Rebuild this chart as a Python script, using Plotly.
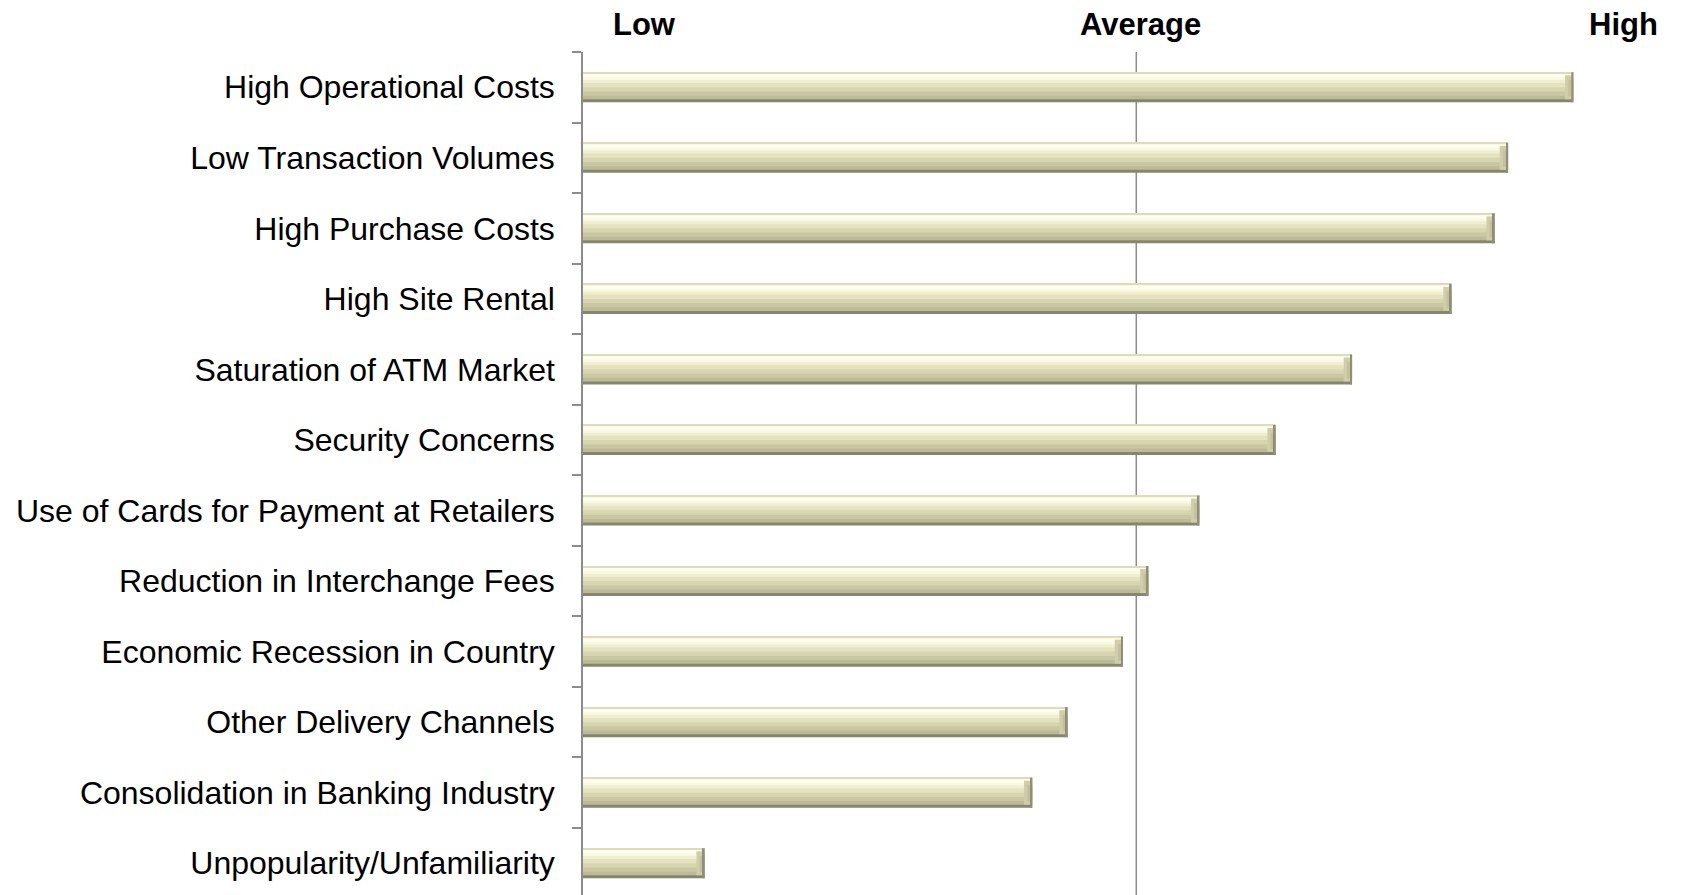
import plotly.graph_objects as go

# Barriers to ATM deployment, rated on a Low -> Average -> High scale (0-100)
categories = [
    "High Operational Costs",
    "Low Transaction Volumes",
    "High Purchase Costs",
    "High Site Rental",
    "Saturation of ATM Market",
    "Security Concerns",
    "Use of Cards for Payment at Retailers",
    "Reduction in Interchange Fees",
    "Economic Recession in Country",
    "Other Delivery Channels",
    "Consolidation in Banking Industry",
    "Unpopularity/Unfamiliarity",
]
scores = [89.5, 83.6, 82.4, 78.5, 69.5, 62.6, 55.7, 51.1, 48.8, 43.8, 40.6, 11.0]

scale_labels = ["Low", "Average", "High"]
scale_label_pos = [5.6, 50.4, 94.0]
average_value = 50

W, H = 1684, 895
BAR_W = 0.4255  # bar thickness in category units

# horizontal shading bands of each bar, top to bottom: (start, end, colour)
bands = [
    (0.00, 1.00, "#86866f"),
    (0.00, 0.90, "#bdbb97"),
    (0.00, 0.78, "#cac8a3"),
    (0.00, 0.64, "#d8d6b1"),
    (0.00, 0.50, "#e4e2bf"),
    (0.00, 0.36, "#efeecf"),
    (0.03, 0.26, "#f9f9e2"),
    (0.07, 0.17, "#fefef0"),
    (0.00, 0.035, "#dedcb8"),
]

fig = go.Figure()

for a, b, col in bands:
    fig.add_trace(go.Bar(
        y=categories, x=scores, orientation="h",
        offset=-BAR_W / 2 + a * BAR_W, width=(b - a) * BAR_W,
        marker=dict(color=col, line=dict(width=0)),
        hoverinfo="skip", showlegend=False,
    ))

# bevelled right-hand end of each bar
cap = 0.75
cap_bands = [
    (0.10, 0.90, "#cfcdaa", cap),
    (0.25, 0.80, "#c2c09d", cap * 0.6),
    (0.00, 1.00, "#8f8f78", 0.18),
]
for a, b, col, d in cap_bands:
    fig.add_trace(go.Bar(
        y=categories, x=[d] * len(scores), base=[v - d for v in scores],
        orientation="h",
        offset=-BAR_W / 2 + a * BAR_W, width=(b - a) * BAR_W,
        marker=dict(color=col, line=dict(width=0)),
        hoverinfo="skip", showlegend=False,
    ))

# average reference line
fig.add_shape(type="line", xref="x", yref="paper",
              x0=average_value, x1=average_value, y0=0, y1=1,
              line=dict(color="#8c8c8c", width=1.5), layer="below")

# Low / Average / High headings
for txt, pos in zip(scale_labels, scale_label_pos):
    fig.add_annotation(text=f"<b>{txt}</b>", x=pos, xref="x",
                       y=1.0326, yref="paper", yanchor="middle",
                       xanchor="center", showarrow=False,
                       font=dict(family="Arial, Liberation Sans", size=31,
                                 color="#000000"))

fig.update_layout(
    width=W, height=H,
    margin=dict(l=583, r=0, t=52, b=0),
    paper_bgcolor="white", plot_bgcolor="white",
    barmode="overlay",
    font=dict(family="Arial, Liberation Sans", size=32, color="#000000"),
    xaxis=dict(range=[0, 99.5], showgrid=False, zeroline=False,
               showticklabels=False, ticks="", showline=False, fixedrange=True),
    yaxis=dict(categoryorder="array", categoryarray=categories,
               range=[11.45, -0.5], showgrid=False, zeroline=False,
               showline=True, linecolor="#8c8c8c", linewidth=1.5,
               ticks="outside", tickson="boundaries", ticklen=9,
               tickcolor="#8c8c8c", tickwidth=1.5,
               ticklabelstandoff=20,
               tickfont=dict(family="Arial, Liberation Sans", size=32,
                             color="#000000")),
)

fig.write_html("out.html")
